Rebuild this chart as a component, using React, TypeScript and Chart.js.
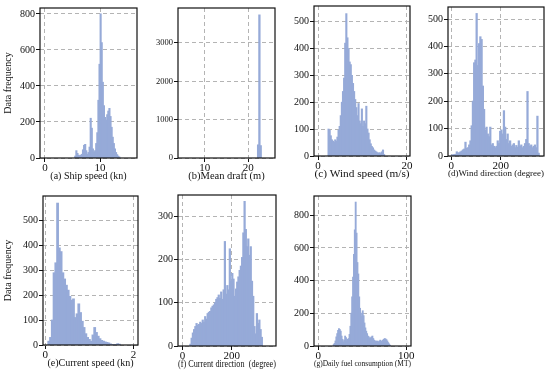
import React, { useEffect, useRef } from "react";
import { Chart, registerables } from "chart.js";

Chart.register(...registerables);

// ---------------- data ----------------
// (a) Ship speed (kn): histogram bins
const shipSpeedStart = 5.4;
const shipSpeedBin = 0.2;
const shipSpeedCounts = [10, 40, 25, 15, 12, 15, 20, 45, 70, 75, 40, 20, 30, 60, 220, 165, 50, 30, 40, 80, 140, 320, 520, 800, 640, 420, 290, 225, 210, 240, 260, 275, 230, 170, 115, 80, 50, 30, 18, 10, 5];
const shipSpeedXTicks = [0, 10];
const shipSpeedYTicks = [0, 200, 400, 600, 800];

// (b) Mean draft (m)
const draftStart = 22.15;
const draftBin = 0.3;
const draftCounts = [340, 3730, 320];
const draftXTicks = [10, 20];
const draftYTicks = [0, 1000, 2000, 3000];

// (c) Wind speed (m/s)
const windSpeedStart = 2.25;
const windSpeedBin = 0.25;
const windSpeedCounts = [100, 95, 75, 60, 55, 50, 60, 55, 70, 95, 110, 150, 200, 240, 290, 420, 530, 440, 400, 350, 340, 300, 270, 240, 210, 180, 150, 195, 130, 120, 175, 110, 130, 120, 185, 100, 85, 60, 45, 35, 30, 22, 18, 15, 12, 10, 12, 8, 15, 22, 5];
const windSpeedXTicks = [0, 20];
const windSpeedYTicks = [0, 100, 200, 300, 400, 500];

// (d) Wind direction (degree)
const windDirStart = 0;
const windDirBin = 5;
const windDirCounts = [3, 4, 5, 6, 15, 10, 12, 15, 18, 22, 25, 50, 28, 30, 40, 55, 110, 200, 340, 350, 520, 330, 410, 435, 425, 255, 170, 95, 105, 80, 70, 105, 40, 45, 35, 30, 35, 55, 45, 90, 95, 80, 165, 105, 60, 80, 45, 55, 35, 40, 45, 30, 38, 32, 55, 35, 40, 30, 35, 45, 60, 235, 45, 35, 40, 30, 35, 40, 30, 145, 10];
const windDirXTicks = [0, 200];
const windDirYTicks = [0, 100, 200, 300, 400, 500];

// (e) Current speed (kn)
const curSpeedStart = 0.06;
const curSpeedBin = 0.04;
const curSpeedCounts = [15, 30, 100, 290, 330, 570, 390, 375, 290, 265, 240, 220, 195, 180, 185, 110, 125, 165, 130, 95, 70, 45, 30, 22, 15, 40, 70, 50, 35, 25, 18, 15, 12, 10, 8, 4, 2, 2, 2, 5, 3];
const curSpeedXTicks = [0, 2];
const curSpeedYTicks = [0, 100, 200, 300, 400, 500];

// (f) Current direction (degree)
const curDirStart = 30;
const curDirBin = 5;
const curDirCounts = [4, 18, 30, 38, 45, 52, 48, 50, 55, 52, 60, 55, 68, 62, 75, 78, 80, 88, 92, 95, 100, 108, 112, 118, 110, 125, 108, 130, 242, 120, 140, 130, 225, 150, 168, 155, 115, 132, 148, 160, 175, 185, 205, 262, 335, 270, 230, 248, 210, 230, 150, 115, 45, 28, 75, 52, 60, 38, 20];
const curDirXTicks = [0, 200];
const curDirYTicks = [0, 100, 200, 300];

// (g) Daily fuel consumption (MT)
const fuelStart = 17;
const fuelBin = 1;
const fuelCounts = [8, 15, 30, 55, 75, 95, 105, 100, 90, 60, 40, 25, 35, 60, 50, 30, 40, 45, 70, 120, 200, 300, 420, 560, 710, 880, 690, 510, 440, 300, 230, 200, 180, 215, 185, 140, 110, 90, 75, 60, 55, 45, 50, 55, 60, 45, 35, 30, 25, 30, 28, 24, 30, 35, 28, 30, 35, 40, 45, 42, 38, 30, 20, 12, 5];
const fuelXTicks = [0, 100];
const fuelYTicks = [0, 200, 400, 600, 800];

// ---------------- styling / layout ----------------
const FONT = "'Liberation Serif', 'Times New Roman', Times, serif";
const BAR_COLOR = "rgb(150,170,216)";
const GRID_COLOR = "#b4b4b4";
const TEXT_COLOR = "#111";
const PAD_T = 10;
const PAD_R = 10;
const X_AXIS_H = 28;
const TITLE_CENTER = 18; // px below plot bottom

interface PanelSpec {
  title: string;
  yTitle?: string;
  start: number;
  bin: number;
  counts: number[];
  xTicks: number[];
  yTicks: number[];
  xMin: number;
  xMax: number;
  yMax: number;
}

interface PanelBox {
  plot: [number, number, number, number]; // left, top, right, bottom
  yAxisW: number;
  titleSize: number;
  yTickSize: number;
}

const panels: { spec: PanelSpec; box: PanelBox }[] = [
  {
    spec: { title: "(a) Ship speed (kn)", yTitle: "Data frequency", start: shipSpeedStart, bin: shipSpeedBin, counts: shipSpeedCounts, xTicks: shipSpeedXTicks, yTicks: shipSpeedYTicks, xMin: -0.9, xMax: 16.7, yMax: 833 },
    box: { plot: [40, 8, 137, 158], yAxisW: 40, titleSize: 10, yTickSize: 10 },
  },
  {
    spec: { title: "(b)Mean draft (m)", start: draftStart, bin: draftBin, counts: draftCounts, xTicks: draftXTicks, yTicks: draftYTicks, xMin: 3.8, xMax: 26.2, yMax: 3913 },
    box: { plot: [178, 8, 275, 158], yAxisW: 36, titleSize: 10.5, yTickSize: 8.5 },
  },
  {
    spec: { title: "(c) Wind speed (m/s)", start: windSpeedStart, bin: windSpeedBin, counts: windSpeedCounts, xTicks: windSpeedXTicks, yTicks: windSpeedYTicks, xMin: -0.9, xMax: 20.7, yMax: 559 },
    box: { plot: [314, 6, 410, 156], yAxisW: 36, titleSize: 11.3, yTickSize: 10 },
  },
  {
    spec: { title: "(d)Wind direction (degree)", start: windDirStart, bin: windDirBin, counts: windDirCounts, xTicks: windDirXTicks, yTicks: windDirYTicks, xMin: -13, xMax: 374, yMax: 544 },
    box: { plot: [448, 7, 544, 156], yAxisW: 36, titleSize: 9, yTickSize: 10 },
  },
  {
    spec: { title: "(e)Current speed (kn)", yTitle: "Data frequency", start: curSpeedStart, bin: curSpeedBin, counts: curSpeedCounts, xTicks: curSpeedXTicks, yTicks: curSpeedYTicks, xMin: -0.05, xMax: 2.1, yMax: 599 },
    box: { plot: [43, 196, 138, 345], yAxisW: 43, titleSize: 10, yTickSize: 10 },
  },
  {
    spec: { title: "(f) Current direction  (degree)", start: curDirStart, bin: curDirBin, counts: curDirCounts, xTicks: curDirXTicks, yTicks: curDirYTicks, xMin: -18, xMax: 380, yMax: 350 },
    box: { plot: [178, 195, 276, 346], yAxisW: 36, titleSize: 10, yTickSize: 10 },
  },
  {
    spec: { title: "(g)Daily fuel consumption (MT)", start: fuelStart, bin: fuelBin, counts: fuelCounts, xTicks: fuelXTicks, yTicks: fuelYTicks, xMin: -4.9, xMax: 105.4, yMax: 918 },
    box: { plot: [314, 196, 411, 346], yAxisW: 36, titleSize: 8, yTickSize: 10 },
  },
];

const framePlugin = {
  id: "frameBox",
  afterDraw(chart: any) {
    const { ctx, chartArea: a } = chart;
    ctx.save();
    ctx.setLineDash([]);
    ctx.strokeStyle = TEXT_COLOR;
    ctx.lineWidth = 1.2;
    ctx.strokeRect(a.left, a.top, a.right - a.left, a.bottom - a.top);
    ctx.restore();
  },
};

const plainLabel = (v: any) => String(v);

function Panel({ spec, box }: { spec: PanelSpec; box: PanelBox }) {
  const ref = useRef<HTMLCanvasElement>(null);
  const [l, t, r, b] = box.plot;
  const width = r - l + box.yAxisW + PAD_R;
  const height = b - t + PAD_T + X_AXIS_H;
  const left = l - box.yAxisW;
  const top = t - PAD_T;

  useEffect(() => {
    const data = spec.counts.map((c, i) => ({ x: spec.start + spec.bin * (i + 0.5), y: c }));
    const titlePadBottom = X_AXIS_H - TITLE_CENTER - box.titleSize / 2;
    const gridCommon = {
      display: true,
      color: GRID_COLOR,
      lineWidth: 1,
      z: 0,
      offset: false,
      drawTicks: true,
      tickLength: 4,
      tickColor: TEXT_COLOR,
      tickWidth: 1,
      tickBorderDash: [],
    };
    const chart = new Chart(ref.current as HTMLCanvasElement, {
      type: "bar",
      data: {
        datasets: [
          {
            data,
            backgroundColor: BAR_COLOR,
            borderWidth: 0,
            barPercentage: 1,
            categoryPercentage: 1,
            inflateAmount: 0.5,
          } as any,
        ],
      },
      options: {
        animation: false,
        responsive: false,
        maintainAspectRatio: false,
        layout: { padding: { top: PAD_T, right: PAD_R, left: 0, bottom: 0 } },
        plugins: { legend: { display: false }, tooltip: { enabled: false } },
        scales: {
          x: {
            type: "linear",
            min: spec.xMin,
            max: spec.xMax,
            offset: false,
            afterBuildTicks: (s: any) => {
              s.ticks = spec.xTicks.map((v) => ({ value: v }));
            },
            afterFit: (s: any) => {
              s.height = X_AXIS_H;
            },
            grid: gridCommon,
            border: { display: false, dash: [4, 3] },
            ticks: {
              font: { family: FONT, size: 11, lineHeight: 1 },
              color: TEXT_COLOR,
              padding: 1,
              maxRotation: 0,
              autoSkip: false,
              callback: plainLabel,
            },
            title: {
              display: true,
              text: spec.title,
              color: TEXT_COLOR,
              font: { family: FONT, size: box.titleSize, lineHeight: 1 },
              padding: { top: 0, bottom: titlePadBottom },
            },
          },
          y: {
            type: "linear",
            min: 0,
            max: spec.yMax,
            afterBuildTicks: (s: any) => {
              s.ticks = spec.yTicks.map((v) => ({ value: v }));
            },
            afterFit: (s: any) => {
              s.width = box.yAxisW;
            },
            grid: gridCommon,
            border: { display: false, dash: [4, 3] },
            ticks: {
              font: { family: FONT, size: box.yTickSize, lineHeight: 1 },
              color: TEXT_COLOR,
              padding: 1,
              autoSkip: false,
              callback: plainLabel,
            },
            title: {
              display: !!spec.yTitle,
              text: spec.yTitle || "",
              color: TEXT_COLOR,
              font: { family: FONT, size: 10, lineHeight: 1 },
              padding: { top: 3.5, bottom: 0 },
            },
          },
        },
      } as any,
      plugins: [framePlugin],
    });
    return () => chart.destroy();
  }, []);

  return (
    <canvas
      ref={ref}
      width={width}
      height={height}
      style={{ position: "absolute", left, top, width, height }}
    />
  );
}

export default function App() {
  return (
    <div
      style={{
        position: "absolute",
        left: 0,
        top: 0,
        width: 550,
        height: 377,
        background: "#fff",
        overflow: "hidden",
      }}
    >
      {panels.map((p, i) => (
        <Panel key={i} spec={p.spec} box={p.box} />
      ))}
    </div>
  );
}
